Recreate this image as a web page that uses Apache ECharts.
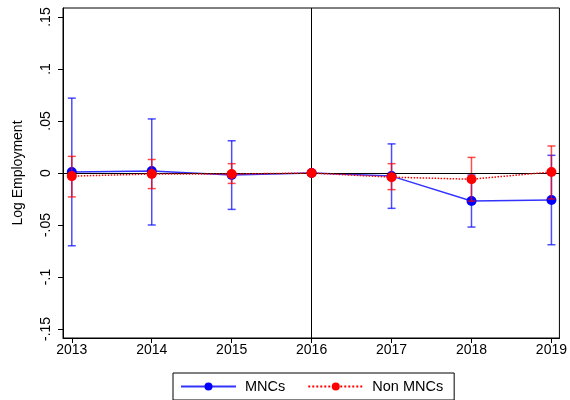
<!DOCTYPE html>
<html>
<head>
<meta charset="utf-8">
<script src="https://cdn.jsdelivr.net/npm/echarts@6/dist/echarts.min.js"></script>
<style>html,body{margin:0;padding:0;background:#fff}#c{width:570px;height:400px}</style>
</head>
<body>
<div id="c"></div>
<script>
const years = [2013, 2014, 2015, 2016, 2017, 2018, 2019];
const mncCoef = [0.001, 0.002, -0.002, 0, -0.003, -0.027, -0.026];
const mncLo = [-0.070, -0.050, -0.035, 0, -0.034, -0.052, -0.069];
const mncHi = [0.072, 0.052, 0.031, 0, 0.028, -0.002, 0.017];
const nonCoef = [-0.003, -0.001, -0.001, 0, -0.004, -0.006, 0.001];
const nonLo = [-0.023, -0.015, -0.010, 0, -0.016, -0.027, -0.025];
const nonHi = [0.016, 0.013, 0.009, 0, 0.009, 0.015, 0.026];
const yTicks = [-0.15, -0.1, -0.05, 0, 0.05, 0.1, 0.15];

const FONT = 'Liberation Sans, Arial, sans-serif';

function fmt(v) {
  if (Math.abs(v) < 1e-9) return '0';
  const s = String(Math.abs(+v.toFixed(4))).replace(/^0/, '');
  return (v < 0 ? '-' : '') + s;
}

function errBar(color) {
  return function (params, api) {
    const x = api.value(0), lo = api.value(1), hi = api.value(2);
    const p1 = api.coord([x, hi]), p2 = api.coord([x, lo]);
    const w = 4;
    const st = { stroke: color, lineWidth: 1.5 };
    return {
      type: 'group',
      children: [
        { type: 'line', shape: { x1: p1[0], y1: p1[1], x2: p2[0], y2: p2[1] }, style: st },
        { type: 'line', shape: { x1: p1[0] - w, y1: p1[1], x2: p1[0] + w, y2: p1[1] }, style: st },
        { type: 'line', shape: { x1: p2[0] - w, y1: p2[1], x2: p2[0] + w, y2: p2[1] }, style: st }
      ]
    };
  };
}

const chart = echarts.init(document.getElementById('c'));
chart.setOption({
  animation: false,
  backgroundColor: '#fff',
  textStyle: { fontFamily: FONT },
  grid: { left: 63, right: 8, top: 8, bottom: 62, show: true, borderColor: '#000', borderWidth: 1, backgroundColor: '#fff' },
  legend: {
    data: ['MNCs', 'Non MNCs'],
    left: 173, top: 373,
    orient: 'horizontal',
    itemWidth: 55, itemHeight: 10, itemGap: 22,
    padding: [6, 11, 6, 7],
    borderColor: '#000', borderWidth: 1,
    textStyle: { fontSize: 14.5, color: '#000', fontFamily: FONT, padding: [0, 0, 0, 4] }
  },
  xAxis: {
    type: 'value', min: 2012.89, max: 2019.1,
    splitLine: { show: false },
    axisLine: { show: true, onZero: false, lineStyle: { color: '#000' } },
    axisTick: { show: true, length: 5, customValues: years, lineStyle: { color: '#000' } },
    axisLabel: { customValues: years, color: '#000', fontSize: 14, margin: 5, fontFamily: FONT, formatter: v => String(v) }
  },
  yAxis: {
    type: 'value', min: -0.1587, max: 0.1587,
    name: 'Log Employment', nameLocation: 'middle', nameGap: 38, nameRotate: 90,
    nameTextStyle: { fontSize: 14, color: '#000', fontFamily: FONT },
    splitLine: { show: false },
    axisLine: { show: true, onZero: false, lineStyle: { color: '#000' } },
    axisTick: { show: true, length: 5, customValues: yTicks, lineStyle: { color: '#000' } },
    axisLabel: { customValues: yTicks, rotate: 90, color: '#000', fontSize: 14, margin: 10, fontFamily: FONT, formatter: fmt }
  },
  series: [
    {
      type: 'custom', name: 'mncCI', renderItem: errBar('rgba(0,0,255,0.7)'),
      encode: { x: 0, y: [1, 2] },
      data: years.map((y, i) => [y, mncLo[i], mncHi[i]]),
      z: 2
    },
    {
      type: 'line', name: 'MNCs',
      data: years.map((y, i) => [y, mncCoef[i]]),
      symbol: 'circle', symbolSize: 10, showSymbol: true,
      itemStyle: { color: '#0000ff' },
      lineStyle: { color: 'rgba(0,0,255,0.8)', width: 1.5 },
      z: 3,
      markLine: {
        silent: true, symbol: 'none', label: { show: false },
        lineStyle: { color: '#000', width: 1, type: 'solid' },
        data: [{ yAxis: 0 }, { xAxis: 2016 }]
      }
    },
    {
      type: 'custom', name: 'nonCI', renderItem: errBar('rgba(255,0,0,0.7)'),
      encode: { x: 0, y: [1, 2] },
      data: years.map((y, i) => [y, nonLo[i], nonHi[i]]),
      z: 4
    },
    {
      type: 'line', name: 'Non MNCs',
      data: years.map((y, i) => [y, nonCoef[i]]),
      symbol: 'circle', symbolSize: 10, showSymbol: true,
      itemStyle: { color: '#ff0000' },
      lineStyle: { color: '#ff0000', width: 1.5, type: 'dotted' },
      z: 5
    }
  ]
});
</script>
</body>
</html>
